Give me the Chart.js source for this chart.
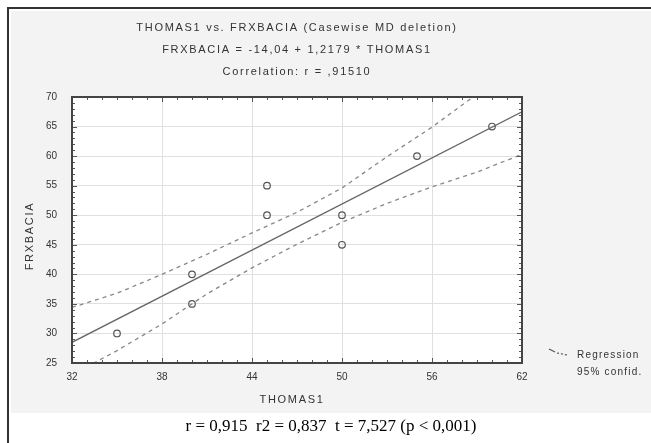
<!DOCTYPE html>
<html>
<head>
<meta charset="utf-8">
<script src="https://cdn.jsdelivr.net/npm/chart.js@4"></script>
<style>
html, body { margin: 0; padding: 0; background: #fff; }
#wrap { position: relative; width: 651px; height: 443px; overflow: hidden; }
#frame { position: absolute; left: 7px; top: 7px; width: 700px; height: 500px; border-left: 2px solid #333; border-top: 2px solid #333; }
#panel { position: absolute; left: 11px; top: 11px; width: 640px; height: 402px; background: #f3f3f3; }
#chart { position: absolute; left: 0; top: 0; }
#caption { position: absolute; left: 11px; width: 640px; top: 416px; text-align: center; font-family: "Liberation Serif", "Times New Roman", serif; font-size: 17px; color: #000; white-space: pre; }
</style>
</head>
<body>
<div id="wrap">
  <div id="frame"></div>
  <div id="panel"></div>
  <canvas id="chart" width="651" height="443"></canvas>
  <div id="caption">r = 0,915  r2 = 0,837  t = 7,527 (p &lt; 0,001)</div>
</div>
<script>
// values
const pointX = [35, 40, 40, 45, 45, 50, 50, 55, 60];
const pointY = [30, 40, 35, 55, 50, 50, 45, 60, 65];

const lineX = [32, 62];
const lineY = [28.5, 67.5];

const bandX = [32, 35, 38, 41, 44, 47, 50, 53, 56, 59, 62];
const upperY = [34.4, 36.8, 40.0, 43.4, 47.0, 50.5, 54.6, 59.9, 64.9, 70.5, 75.5];
const lowerY = [23.0, 27.1, 31.6, 36.7, 41.1, 45.1, 48.8, 52.0, 54.8, 57.3, 60.3];

const xTicks = [32, 38, 44, 50, 56, 62];
const yTicks = [25, 30, 35, 40, 45, 50, 55, 60, 65, 70];

const titleLines = [
    'THOMAS1 vs. FRXBACIA (Casewise MD deletion)',
    'FRXBACIA = -14,04 + 1,2179 * THOMAS1',
    'Correlation: r = ,91510'
];
const xTitle = 'THOMAS1';
const yTitle = 'FRXBACIA';
const legendLines = ['Regression', '95% confid.'];

const textColor = '#333';
const labelFont = { family: 'Liberation Sans, Arial, sans-serif', size: 10 };

function toXY(xs, ys) {
    return xs.map((x, i) => ({ x: x, y: ys[i] }));
}

const decor = {
    id: 'decor',
    beforeDraw(chart) {
        const { ctx, chartArea: a } = chart;
        ctx.save();
        ctx.fillStyle = '#fff';
        ctx.fillRect(a.left, a.top, a.right - a.left, a.bottom - a.top);
        ctx.restore();
    },
    afterDraw(chart) {
        const { ctx, chartArea: a } = chart;
        const xs = chart.scales.x, ys = chart.scales.y;
        ctx.save();

        // minor / major ticks inside the frame
        ctx.strokeStyle = '#555';
        ctx.lineWidth = 1;
        ctx.beginPath();
        for (let v = xs.min; v <= xs.max; v++) {
            const px = Math.round(xs.getPixelForValue(v)) + 0.5;
            const len = xTicks.includes(v) ? 5 : 3;
            ctx.moveTo(px, a.bottom); ctx.lineTo(px, a.bottom - len);
            ctx.moveTo(px, a.top); ctx.lineTo(px, a.top + len);
        }
        for (let v = ys.min; v <= ys.max; v++) {
            const py = Math.round(ys.getPixelForValue(v)) + 0.5;
            const len = yTicks.includes(v) ? 5 : 3;
            ctx.moveTo(a.left, py); ctx.lineTo(a.left + len, py);
            ctx.moveTo(a.right, py); ctx.lineTo(a.right - len, py);
        }
        ctx.stroke();

        // frame
        ctx.strokeStyle = '#444';
        ctx.lineWidth = 2;
        ctx.strokeRect(a.left, a.top, a.right - a.left, a.bottom - a.top);

        // titles
        ctx.fillStyle = textColor;
        ctx.font = '11px "Liberation Sans", Arial, sans-serif';
        ctx.letterSpacing = '1.7px';
        ctx.textAlign = 'center';
        ctx.textBaseline = 'middle';
        const cx = (a.left + a.right) / 2;
        titleLines.forEach((t, i) => ctx.fillText(t, cx, 28 + i * 22));

        // axis titles
        ctx.fillText(xTitle, cx - 5, 400);
        ctx.save();
        ctx.translate(30, 236);
        ctx.rotate(-Math.PI / 2);
        ctx.fillText(yTitle, 0, 0);
        ctx.restore();

        // legend
        ctx.textAlign = 'left';
        ctx.letterSpacing = '1.2px';
        ctx.font = '10px "Liberation Sans", Arial, sans-serif';
        ctx.fillText(legendLines[0], 577, 355);
        ctx.fillText(legendLines[1], 577, 372);
        ctx.strokeStyle = '#555';
        ctx.lineWidth = 1.2;
        ctx.beginPath();
        ctx.moveTo(549, 349); ctx.lineTo(555, 352);
        ctx.stroke();
        ctx.setLineDash([2, 2]);
        ctx.beginPath();
        ctx.moveTo(557, 353); ctx.lineTo(567, 355);
        ctx.stroke();
        ctx.restore();
    }
};

const ctx = document.getElementById('chart').getContext('2d');
new Chart(ctx, {
    type: 'scatter',
    data: {
        datasets: [
            {
                label: 'Regression',
                data: toXY(lineX, lineY),
                showLine: true,
                borderColor: '#666',
                borderWidth: 1.3,
                pointRadius: 0
            },
            {
                label: '95% confid. upper',
                data: toXY(bandX, upperY),
                showLine: true,
                borderColor: '#888',
                borderWidth: 1.3,
                borderDash: [4, 4],
                pointRadius: 0
            },
            {
                label: '95% confid. lower',
                data: toXY(bandX, lowerY),
                showLine: true,
                borderColor: '#888',
                borderWidth: 1.3,
                borderDash: [4, 4],
                pointRadius: 0
            },
            {
                label: 'FRXBACIA',
                data: toXY(pointX, pointY),
                showLine: false,
                pointRadius: 3.3,
                pointBorderWidth: 1.2,
                pointBackgroundColor: 'rgba(255,255,255,0)',
                pointBorderColor: '#555'
            }
        ]
    },
    options: {
        responsive: false,
        animation: false,
        layout: { padding: { left: 18, right: 129, top: 97, bottom: 35 } },
        plugins: {
            legend: { display: false },
            tooltip: { enabled: false }
        },
        scales: {
            x: {
                type: 'linear',
                min: 32,
                max: 62,
                afterBuildTicks: s => { s.ticks = xTicks.map(v => ({ value: v })); },
                afterFit: s => { s.height = 45; },
                ticks: { font: labelFont, color: textColor, padding: 8 },
                grid: { color: '#e0e0e0', drawTicks: false },
                border: { display: false }
            },
            y: {
                type: 'linear',
                min: 25,
                max: 70,
                afterBuildTicks: s => { s.ticks = yTicks.map(v => ({ value: v })); },
                afterFit: s => { s.width = 54; },
                ticks: { font: labelFont, color: textColor, padding: 15 },
                grid: { color: '#e0e0e0', drawTicks: false },
                border: { display: false }
            }
        }
    },
    plugins: [decor]
});
</script>
</body>
</html>
